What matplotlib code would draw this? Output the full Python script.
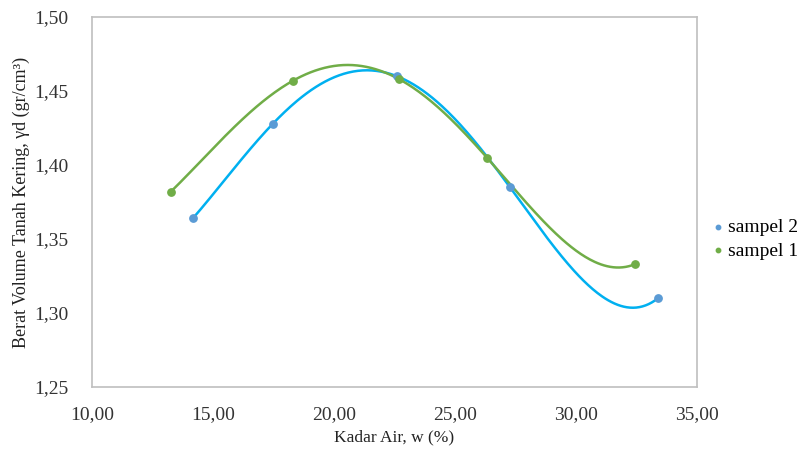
import matplotlib.pyplot as plt
from matplotlib.ticker import FuncFormatter
import numpy as np

# data
kadar_air_2 = [14.17, 17.48, 22.60, 27.27, 33.39]
berat_2 = [1.364, 1.428, 1.460, 1.385, 1.310]
kadar_air_1 = [13.26, 18.31, 22.69, 26.32, 32.44]
berat_1 = [1.382, 1.457, 1.458, 1.405, 1.333]

X_TICKS = [10, 15, 20, 25, 30, 35]
Y_TICKS = [1.25, 1.30, 1.35, 1.40, 1.45, 1.50]

BLUE_LINE = "#00B0F0"
BLUE_MARK = "#5B9BD5"
GREEN = "#70AD47"
GRID = "#BFBFBF"


def smooth(x, y):
    # 4th order polynomial trend line (passes through the 5 points)
    c = np.polyfit(x, y, 4)
    xs = np.linspace(min(x), max(x), 300)
    return xs, np.polyval(c, xs)


def comma(v, pos):
    return f"{v:.2f}".replace(".", ",")


def main():
    plt.rcParams["font.family"] = ["Liberation Serif", "DejaVu Serif"]
    fig = plt.figure(figsize=(8.06, 4.49), dpi=100)
    ax = fig.add_axes([92 / 806, 1 - 387 / 449, (697 - 92) / 806, (387 - 17) / 449])

    xs, ys = smooth(kadar_air_2, berat_2)
    ax.plot(xs, ys, color=BLUE_LINE, lw=1.8, zorder=2)
    xs, ys = smooth(kadar_air_1, berat_1)
    ax.plot(xs, ys, color=GREEN, lw=1.8, zorder=2)

    ax.scatter(kadar_air_2, berat_2, s=28, color=BLUE_MARK, zorder=3, label="sampel 2")
    ax.scatter(kadar_air_1, berat_1, s=28, color=GREEN, zorder=3, label="sampel 1")

    ax.set_xlim(10, 35)
    ax.set_ylim(1.25, 1.50)
    ax.set_xticks(X_TICKS)
    ax.set_yticks(Y_TICKS)
    ax.xaxis.set_major_formatter(FuncFormatter(comma))
    ax.yaxis.set_major_formatter(FuncFormatter(comma))
    ax.tick_params(length=0, labelsize=14, colors="#333333")
    ax.tick_params(axis="y", pad=17)
    ax.tick_params(axis="x", pad=14)
    for s in ax.spines.values():
        s.set_color(GRID)
        s.set_linewidth(1.2)

    ax.set_xlabel("Kadar Air, w (%)", fontsize=12.5, color="#222222", labelpad=4)
    ax.set_ylabel("Berat Volume Tanah Kering, γd (gr/cm³)", fontsize=13,
                  color="#222222", labelpad=3)

    fig.legend(loc="center left", bbox_to_anchor=(708 / 806, 1 - 239 / 449), frameon=False,
               fontsize=14, handletextpad=0.05, handlelength=1.0, markerscale=0.6,
               labelspacing=0.3, borderpad=0, borderaxespad=0)

    fig.savefig("out.png", dpi=100)


if __name__ == "__main__":
    main()
